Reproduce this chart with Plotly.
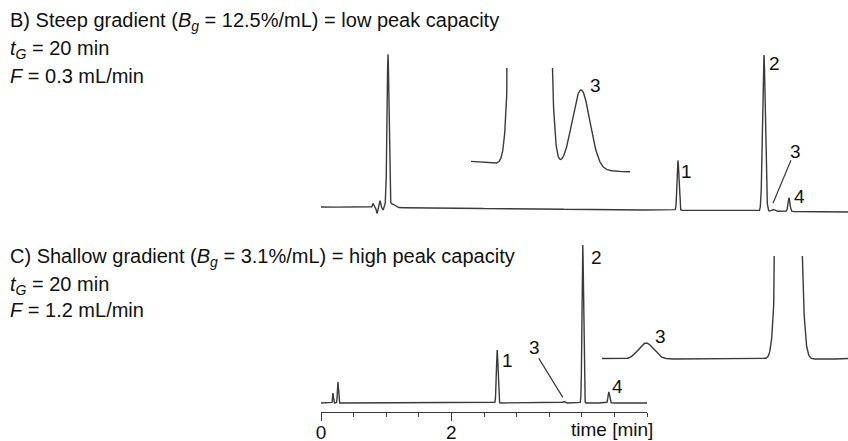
import numpy as np
import plotly.graph_objects as go

W, H = 848, 441

# ---------------- data ----------------
# Chromatogram B: steep gradient (arbitrary signal units, peak 2 = 100)
b_time_range = [0.0, 8.08]                          # min
b_peak_labels = ["t0", "1", "2", "3", "4"]
b_peak_times = [1.027, 5.471, 6.789, 6.927, 7.172]   # min
b_peak_heights = [97.5, 32.0, 100.0, 1.32, 8.7]
b_peak_sigmas = [0.014, 0.014, 0.021, 0.024, 0.015]
b_noise_times = [0.797, 0.858, 0.904, 0.950, 0.996, 1.090]
b_noise_heights = [2.6, -3.8, 4.5, -1.5, 5.0, 2.5]
b_noise_sigmas = [0.010, 0.010, 0.008, 0.008, 0.008, 0.040]
b_baseline = [0.0, -3.2]                             # value at start, at end

# Chromatogram C: shallow gradient (arbitrary signal units, peak 2 = 100)
c_time_range = [0.0, 5.0]
c_peak_labels = ["s1", "s2", "1", "3", "2", "4"]
c_peak_times = [0.184, 0.260, 2.702, 3.724, 4.015, 4.414]
c_peak_heights = [6.3, 13.3, 33.5, 1.0, 100.0, 7.0]
c_peak_sigmas = [0.006, 0.008, 0.012, 0.0155, 0.0118, 0.012]
c_baseline = [0.0, 0.0]

# time axis
x_tickvals = [0, 2]
x_ticktext = ["0", "2"]
x_long_tick = [4]
x_minor_step = 0.5

FONT = "Liberation Sans, Arial, sans-serif"
LINE = "#3a3a3a"
TXT = "#111"


def chromatogram(trange, times, heights, sigmas, base, step=0.0005):
    t = np.arange(trange[0], trange[1] + step / 2, step)
    t = np.sort(np.unique(np.concatenate([t, np.array(times)])))
    y = base[0] + (base[1] - base[0]) * (t - trange[0]) / (trange[1] - trange[0])
    for tc, h, s in zip(times, heights, sigmas):
        y = y + h * np.exp(-0.5 * ((t - tc) / s) ** 2)
    return t, y


def base_at(trange, base, t):
    return base[0] + (base[1] - base[0]) * (t - trange[0]) / (trange[1] - trange[0])


tb, yb = chromatogram(b_time_range,
                      b_peak_times + b_noise_times,
                      b_peak_heights + b_noise_heights,
                      b_peak_sigmas + b_noise_sigmas, b_baseline)
tc, yc = chromatogram(c_time_range, c_peak_times, c_peak_heights,
                      c_peak_sigmas, c_baseline)


def px(x):
    return x / W


def py(y):
    return 1 - y / H


fig = go.Figure()
line = dict(color=LINE, width=1.4)
fig.add_trace(go.Scatter(x=tc, y=yc, mode="lines", line=line, xaxis="x", yaxis="y",
                         hoverinfo="skip"))
fig.add_trace(go.Scatter(x=tb, y=yb, mode="lines", line=line, xaxis="x2", yaxis="y2",
                         hoverinfo="skip"))
fig.add_trace(go.Scatter(x=tb, y=yb, mode="lines", line=line, xaxis="x3", yaxis="y3",
                         hoverinfo="skip"))
fig.add_trace(go.Scatter(x=tc, y=yc, mode="lines", line=line, xaxis="x4", yaxis="y4",
                         hoverinfo="skip"))

hidden = dict(visible=False, showgrid=False, zeroline=False, automargin=False)

fig.update_layout(
    width=W, height=H, margin=dict(l=0, r=0, t=0, b=0, autoexpand=False),
    paper_bgcolor="white", plot_bgcolor="rgba(0,0,0,0)", showlegend=False,
    font=dict(family=FONT, size=19, color=TXT),
    xaxis=dict(domain=[px(321), px(647)], range=c_time_range, anchor="y",
               automargin=False,
               showline=True, linecolor=LINE, linewidth=1.4, showgrid=False,
               zeroline=False, ticks="outside", ticklen=8, tickwidth=1.4,
               tickcolor=LINE, tickvals=x_tickvals, ticktext=x_ticktext,
               ticklabelstandoff=-5,
               tickfont=dict(size=19, color=TXT),
               minor=dict(ticks="outside", ticklen=4, tickwidth=1.4,
                          tickcolor=LINE, dtick=x_minor_step, tick0=0,
                          showgrid=False)),
    xaxis5=dict(domain=[px(321), px(647)], range=c_time_range, anchor="y",
                automargin=False,
                overlaying="x", showline=False, showgrid=False, zeroline=False,
                ticks="outside", ticklen=8, tickwidth=1.4, tickcolor=LINE,
                tickvals=x_long_tick, showticklabels=False),
    yaxis=dict(domain=[py(412), py(240)], range=[-5.7, 103.2], **hidden),
    xaxis2=dict(domain=[px(321), 1], range=[0, 8.077], anchor="y2", **hidden),
    yaxis2=dict(domain=[py(215), py(50)], range=[-5.13, 100.6], anchor="x2", **hidden),
    xaxis3=dict(domain=[px(471), px(630)], range=[6.630, 7.059], anchor="y3", **hidden),
    yaxis3=dict(domain=[py(175), py(68)], range=[-2.843, -1.059], anchor="x3", **hidden),
    xaxis4=dict(domain=[px(602), 1], range=[3.634, 4.136], anchor="y4", **hidden),
    yaxis4=dict(domain=[py(365), py(256)], range=[-0.375, 6.44], anchor="x4", **hidden),
)

ann = []
shapes = []


def label(text, xa, ya, t, v, dx, dy):
    ann.append(dict(text=text, x=t, y=v, xref=xa, yref=ya, showarrow=False,
                    xanchor="center", yanchor="middle",
                    xshift=dx, yshift=dy - 1, font=dict(size=19, color=TXT)))


def pointer(xa, ya, t, v, x0, y0, x1, y1):
    # line in pixel offsets (y up) relative to the data point (t, v)
    shapes.append(dict(type="line", xref=xa, yref=ya,
                       xsizemode="pixel", ysizemode="pixel",
                       xanchor=t, yanchor=v, x0=x0, y0=y0, x1=x1, y1=y1,
                       line=dict(color=LINE, width=1.2)))


# B main labels
for name, dx, dy in [("1", 9, -10), ("2", 11, -7), ("4", 11, 2), ("3", 23, 59)]:
    i = b_peak_labels.index(name)
    t = b_peak_times[i]
    label(name, "x2", "y2", t, base_at(b_time_range, b_baseline, t) + b_peak_heights[i], dx, dy)
i = b_peak_labels.index("3")
t3b = b_peak_times[i]
v3b = base_at(b_time_range, b_baseline, t3b) + b_peak_heights[i]
pointer("x2", "y2", t3b, v3b, 0, 6, 18, 49)
# B inset label
label("3", "x3", "y3", t3b, v3b, 14, 5)

# C main labels
for name, dx, dy in [("1", 10, -9), ("2", 14, -11), ("4", 9, 6), ("3", -29, 55)]:
    i = c_peak_labels.index(name)
    label(name, "x", "y", c_peak_times[i], c_peak_heights[i], dx, dy)
i = c_peak_labels.index("3")
pointer("x", "y", c_peak_times[i], c_peak_heights[i], -1, 4, -25, 43)
label("3", "x4", "y4", c_peak_times[i], c_peak_heights[i], 14, 8)

# axis title
ann.append(dict(text="time [min]", x=px(612), y=py(429), xref="paper", yref="paper",
                xanchor="center", yanchor="middle",
                showarrow=False, font=dict(size=19, color=TXT)))

# header texts
texts = [
    ("B) Steep gradient (<i>B</i><sub><i>g</i></sub> = 12.5%/mL) = low peak capacity", 22),
    ("<i>t</i><sub><i>G</i></sub> = 20 min", 50),
    ("<i>F</i> = 0.3 mL/min", 76),
    ("C) Shallow gradient (<i>B</i><sub><i>g</i></sub> = 3.1%/mL) = high peak capacity", 257),
    ("<i>t</i><sub><i>G</i></sub> = 20 min", 285),
    ("<i>F</i> = 1.2 mL/min", 310),
]
for txt, yc_ in texts:
    ann.append(dict(text=txt, x=px(8), y=py(yc_), xref="paper", yref="paper",
                    xanchor="left", yanchor="middle", showarrow=False,
                    font=dict(size=20, color=TXT)))

fig.update_layout(annotations=ann, shapes=shapes)
fig.write_html("out.html")
